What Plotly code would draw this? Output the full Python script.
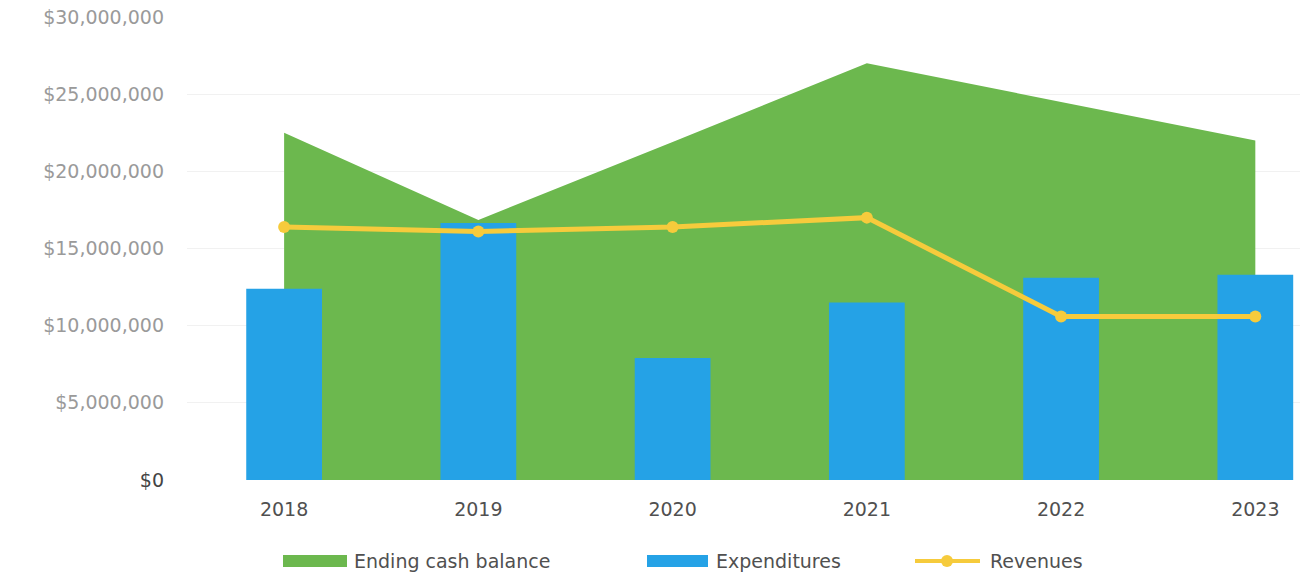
import plotly.graph_objects as go

# Fiscal years and series values (USD)
years = ["2018", "2019", "2020", "2021", "2022", "2023"]
ending_cash_balance = [22500000, 16850000, 21900000, 27000000, 24500000, 22000000]
expenditures = [12400000, 16650000, 7900000, 11500000, 13100000, 13300000]
revenues = [16400000, 16100000, 16400000, 17000000, 10600000, 10600000]

y_ticks = [0, 5000000, 10000000, 15000000, 20000000, 25000000, 30000000]

GREEN = "#6cb84e"
BLUE = "#25a2e6"
YELLOW = "#f6cb3c"
FONT = "DejaVu Sans"

W, H = 1300, 582
L, R, T, B = 187, 0, 17, 102
X_RANGE = [-0.5, 5.23]
Y_RANGE = [0, 30000000]

x_idx = list(range(len(years)))

fig = go.Figure()

# Area sits on the base axes; bars and the line go on an overlaid pair so they render above it
fig.add_trace(go.Scatter(
    x=x_idx, y=ending_cash_balance, mode="lines", fill="tozeroy",
    fillcolor=GREEN, line=dict(width=0, color=GREEN),
    name="Ending cash balance", showlegend=False,
    xaxis="x", yaxis="y",
))
fig.add_trace(go.Bar(
    x=x_idx, y=expenditures, width=0.39, marker=dict(color=BLUE, line=dict(width=0)),
    name="Expenditures", showlegend=False,
    xaxis="x2", yaxis="y2",
))
fig.add_trace(go.Scatter(
    x=x_idx, y=revenues, mode="lines+markers",
    line=dict(color=YELLOW, width=5),
    marker=dict(color=YELLOW, size=12),
    name="Revenues", showlegend=False,
    xaxis="x2", yaxis="y2",
))

def fmt_money(v):
    return "${:,.0f}".format(v)

tick_text = []
for v in y_ticks:
    color = "#444444" if v == 0 else "#9a9a9a"
    tick_text.append(f"<span style='color:{color}'>{fmt_money(v)}</span>")

fig.update_layout(
    width=W, height=H,
    margin=dict(l=L, r=R, t=T, b=B),
    paper_bgcolor="white", plot_bgcolor="white",
    showlegend=False,
    barmode="overlay",
    font=dict(family=FONT),
    xaxis=dict(
        range=X_RANGE,
        tickmode="array", tickvals=x_idx, ticktext=years,
        tickfont=dict(size=19, color="#505050", family=FONT),
        showgrid=False, zeroline=False, showline=False,
        ticks="", ticklabelstandoff=16,
    ),
    yaxis=dict(
        range=Y_RANGE,
        tickmode="array", tickvals=y_ticks, ticktext=tick_text,
        tickfont=dict(size=19, color="#9a9a9a", family=FONT),
        showgrid=True, gridcolor="#f1f1f1", gridwidth=1,
        zeroline=False, showline=False, ticks="",
        ticklabelstandoff=22,
    ),
    xaxis2=dict(
        range=X_RANGE, overlaying="x", anchor="y2",
        showgrid=False, zeroline=False, showline=False, showticklabels=False,
    ),
    yaxis2=dict(
        range=Y_RANGE, overlaying="y", anchor="x2",
        showgrid=False, zeroline=False, showline=False, showticklabels=False,
    ),
)

# Legend drawn below the plot area (pixel positions converted to paper space)
pw, ph = W - L - R, H - T - B

def px(x):
    return (x - L) / pw

def py(y):
    return (H - B - y) / ph

legend_y = 561
shapes = [
    dict(type="rect", xref="paper", yref="paper",
         x0=px(283), x1=px(347), y0=py(legend_y + 6), y1=py(legend_y - 6),
         fillcolor=GREEN, line=dict(width=0)),
    dict(type="rect", xref="paper", yref="paper",
         x0=px(647), x1=px(708), y0=py(legend_y + 6), y1=py(legend_y - 6),
         fillcolor=BLUE, line=dict(width=0)),
    dict(type="line", xref="paper", yref="paper",
         x0=px(915), x1=px(980), y0=py(legend_y), y1=py(legend_y),
         line=dict(color=YELLOW, width=4)),
    dict(type="circle", xref="paper", yref="paper",
         x0=px(941), x1=px(953), y0=py(legend_y + 6), y1=py(legend_y - 6),
         fillcolor=YELLOW, line=dict(width=0)),
]
legend_labels = [("Ending cash balance", 352), ("Expenditures", 714), ("Revenues", 988)]
annotations = [
    dict(text=t, xref="paper", yref="paper", x=px(x0), y=py(legend_y),
         xanchor="left", yanchor="middle", showarrow=False,
         font=dict(size=19, color="#505050", family=FONT))
    for t, x0 in legend_labels
]
fig.update_layout(shapes=shapes, annotations=annotations)

fig.write_html("out.html")
